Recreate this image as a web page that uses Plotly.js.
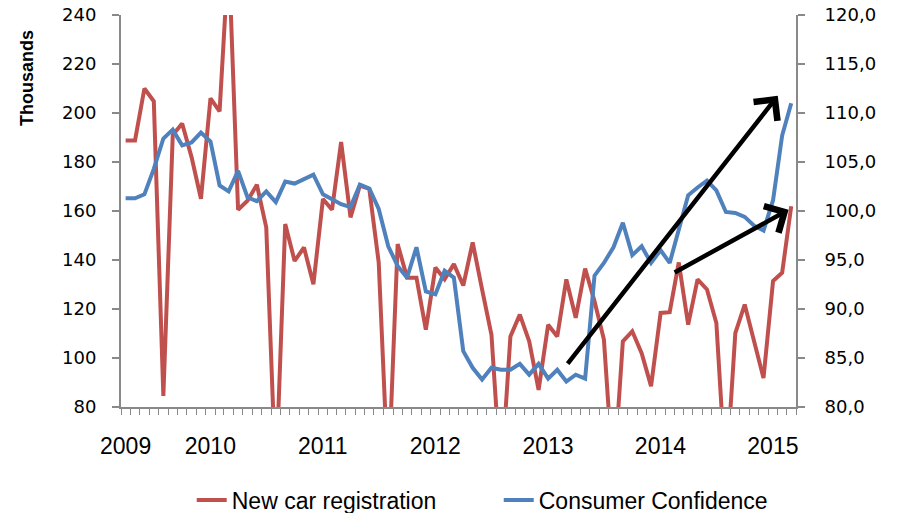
<!DOCTYPE html>
<html>
<head>
<meta charset="utf-8">
<script src="https://cdn.plot.ly/plotly-3.0.1.min.js"></script>
<style>html,body{margin:0;padding:0;background:#fff;}#chart{width:897px;height:513px;}</style>
</head>
<body>
<div id="chart"></div>
<script>
// Months (April 2009 - March 2015)
const months = [
  "2009-04","2009-05","2009-06","2009-07","2009-08","2009-09","2009-10","2009-11","2009-12",
  "2010-01","2010-02","2010-03","2010-04","2010-05","2010-06","2010-07","2010-08","2010-09","2010-10","2010-11","2010-12",
  "2011-01","2011-02","2011-03","2011-04","2011-05","2011-06","2011-07","2011-08","2011-09","2011-10","2011-11","2011-12",
  "2012-01","2012-02","2012-03","2012-04","2012-05","2012-06","2012-07","2012-08","2012-09","2012-10","2012-11","2012-12",
  "2013-01","2013-02","2013-03","2013-04","2013-05","2013-06","2013-07","2013-08","2013-09","2013-10","2013-11","2013-12",
  "2014-01","2014-02","2014-03","2014-04","2014-05","2014-06","2014-07","2014-08","2014-09","2014-10","2014-11","2014-12",
  "2015-01","2015-02","2015-03"
];

// New car registration (thousands, left axis)
const newCarRegistration = [
  188.8,188.8,210.0,204.8,84.5,191.0,195.7,182.0,165.0,
  206.0,200.7,265.0,160.5,164.2,170.7,153.3,50.0,154.7,139.6,145.1,130.1,
  164.9,160.5,188.2,157.4,170.4,169.0,139.0,50.0,146.5,132.8,132.8,111.6,
  136.9,132.1,138.3,129.6,147.2,128.0,109.5,50.0,108.8,117.7,106.8,87.0,
  113.6,108.8,132.1,116.4,136.5,123.2,107.5,50.0,106.8,110.9,102.0,88.5,
  118.4,118.7,139.0,113.6,132.1,128.0,114.3,50.0,110.2,121.8,106.1,91.8,
  131.4,134.8,161.9
];

// Consumer confidence (right axis)
const consumerConfidence = [
  101.3,101.3,101.7,104.3,107.4,108.3,106.7,107.0,108.0,
  107.1,102.6,102.0,104.1,101.4,101.0,102.0,100.9,103.0,102.8,103.2,103.7,
  101.7,101.2,100.7,100.4,102.7,102.3,100.2,96.4,94.4,93.2,96.3,91.8,
  91.5,93.9,93.2,85.7,84.0,82.8,84.0,83.8,83.8,84.4,83.3,84.4,
  82.9,83.8,82.6,83.3,82.9,93.4,94.7,96.3,98.8,95.5,96.4,94.7,
  96.0,94.7,98.2,101.6,102.4,103.1,102.1,99.9,99.8,99.4,98.5,98.0,
  101.1,107.7,111.0
];

// X tick labels and the months they sit on
const tickMonths = ["2009-04","2010-01","2011-01","2012-01","2013-01","2014-01","2015-01"];
const tickLabels = ["2009","2010","2011","2012","2013","2014","2015"];

const seriesNames = ["New car registration","Consumer Confidence"];
const yTitle = "Thousands";

const red = "#C0504D", blue = "#4F81BD", axisGrey = "#898989";

const traces = [
  {x: months, y: newCarRegistration, name: seriesNames[0], type: "scatter", mode: "lines",
   xperiod: "M1", xperiodalignment: "middle",
   line: {color: red, width: 4}, yaxis: "y"},
  {x: months, y: consumerConfidence, name: seriesNames[1], type: "scatter", mode: "lines",
   xperiod: "M1", xperiodalignment: "middle",
   line: {color: blue, width: 4}, yaxis: "y2"}
];

const layout = {
  width: 897, height: 513,
  margin: {l: 121, r: 101, t: 15, b: 106, autoexpand: false},
  paper_bgcolor: "#fff", plot_bgcolor: "#fff",
  separators: ", ",
  font: {family: "Liberation Sans, Arial, sans-serif", color: "#000", size: 18},
  showlegend: true,
  legend: {orientation: "h", xref: "container", yref: "container",
           x: 0.556, xanchor: "center", y: 0.025, yanchor: "middle",
           font: {family: "Liberation Sans, Arial, sans-serif", size: 23, color: "#000"},
           entrywidth: 262, entrywidthmode: "pixels",
           itemwidth: 30, traceorder: "normal"},
  xaxis: {
    type: "date",
    range: ["2009-04-01", "2015-04-01"],
    tickmode: "array",
    tickvals: tickMonths.map(m => m + "-16"),
    ticktext: tickLabels,
    ticks: "outside", ticklen: 0,
    ticklabelstandoff: 17,
    tickfont: {family: "Liberation Sans, Arial, sans-serif", size: 23, color: "#000"},
    showline: true, linecolor: axisGrey, linewidth: 2,
    showgrid: false, zeroline: false,
    minor: {tickmode: "linear", tick0: "2009-04-01", dtick: "M1", ticks: "outside",
            ticklen: 6, tickcolor: axisGrey, tickwidth: 1, showgrid: false}
  },
  yaxis: {
    range: [80, 240], dtick: 20, tick0: 80,
    ticks: "outside", ticklen: 7, tickcolor: axisGrey, tickwidth: 1.5,
    ticklabelstandoff: 12,
    tickfont: {family: "DejaVu Sans, sans-serif", size: 18, color: "#000"},
    showline: true, linecolor: axisGrey, linewidth: 2,
    showgrid: false, zeroline: false
  },
  yaxis2: {
    overlaying: "y", side: "right",
    range: [80, 120], dtick: 5, tick0: 80, tickformat: ".1f",
    ticks: "outside", ticklen: 7, tickcolor: axisGrey, tickwidth: 1.5,
    ticklabelstandoff: 16,
    tickfont: {family: "DejaVu Sans, sans-serif", size: 18, color: "#000"},
    showline: true, linecolor: axisGrey, linewidth: 2,
    showgrid: false, zeroline: false
  },
  annotations: [
    {text: "<b>" + yTitle + "</b>", xref: "paper", yref: "paper",
     x: -0.139, y: 0.84, xanchor: "center", yanchor: "middle", textangle: -90,
     showarrow: false, font: {family: "Liberation Sans, Arial, sans-serif", size: 18, color: "#000"}},
    {xref: "x domain", yref: "y domain", axref: "x domain", ayref: "y domain",
     x: 0.973, y: 0.794, ax: 0.660, ay: 0.107, text: "", showarrow: true,
     arrowhead: 4, arrowsize: 1.3, arrowwidth: 4.5, arrowcolor: "#000", standoff: 0},
    {xref: "x domain", yref: "y domain", axref: "x domain", ayref: "y domain",
     x: 0.989, y: 0.503, ax: 0.818, ay: 0.341, text: "", showarrow: true,
     arrowhead: 4, arrowsize: 1.3, arrowwidth: 4.5, arrowcolor: "#000", standoff: 0}
  ]
};

Plotly.newPlot("chart", traces, layout, {displayModeBar: false, staticPlot: true});
</script>
</body>
</html>
